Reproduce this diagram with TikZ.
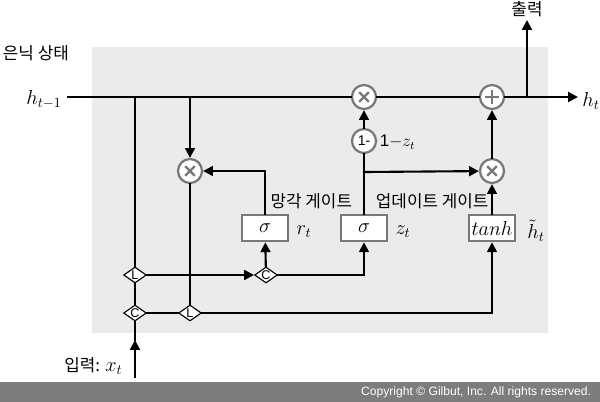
\documentclass[tikz,border=0pt]{standalone}
\usepackage{fontspec}
\setmainfont{Liberation Sans}
\newfontfamily\kr{Noto Sans CJK KR}
\usetikzlibrary{arrows.meta,shapes.geometric}
\definecolor{panel}{RGB}{235,235,235}
\definecolor{ring}{RGB}{120,120,120}
\definecolor{strip}{RGB}{125,125,125}
\tikzset{
  wire/.style={line width=1.5pt,line cap=rect},
  feed/.style={wire,-{Triangle[length=7pt,width=7pt]}},
  op/.style={circle,draw=ring,fill=white,line width=1.6pt,minimum size=0.6cm,inner sep=0pt},
  mul/.style={op,path picture={
      \draw[ring,line width=1.7pt] ([shift={(-0.12cm,-0.12cm)}]path picture bounding box.center) -- ([shift={(0.12cm,0.12cm)}]path picture bounding box.center)
        ([shift={(-0.12cm,0.12cm)}]path picture bounding box.center) -- ([shift={(0.12cm,-0.12cm)}]path picture bounding box.center);}},
  sum/.style={op,path picture={
      \draw[ring,line width=1.7pt] ([shift={(-0.18cm,0)}]path picture bounding box.center) -- ([shift={(0.18cm,0)}]path picture bounding box.center)
        ([shift={(0,0.18cm)}]path picture bounding box.center) -- ([shift={(0,-0.18cm)}]path picture bounding box.center);}},
  gate/.style={rectangle,draw=ring,fill=white,line width=1.6pt,minimum width=1.15cm,minimum height=0.66cm,inner sep=0pt,font=\Large},
  mix/.style={diamond,draw,fill=white,line width=0.8pt,aspect=1.5,minimum width=0.57cm,minimum height=0.4cm,inner sep=0pt,font=\small},
  lbl/.style={font=\Large,inner sep=1pt},
  krlbl/.style={font=\kr\large}
}
\begin{document}
\begin{tikzpicture}[x=0.025cm,y=-0.025cm]
  \useasboundingbox (0,0) rectangle (600,402);
  \fill[panel] (92,47) rectangle (548,333);
  \fill[strip] (0,382) rectangle (600,402);
  \node[anchor=east,text=white,font=\fontsize{8.6}{10}\selectfont] (copy) at (596,392) {Copyright © Gilbut, Inc. All rights reserved.};

  \node[mul] (m1) at (190,171) {};
  \node[mul] (m2) at (364,97) {};
  \node[sum] (add) at (492,97) {};
  \node[mul] (m3) at (492,171) {};
  \node[op,font=\normalsize] (om) at (364,141) {1-};
  \node[gate] (sr) at (265,228) {$\sigma$};
  \node[gate] (sz) at (364,228) {$\sigma$};
  \node[gate] (th) at (492,228) {$tanh$};
  \node[mix] (l1) at (135,275) {L};
  \node[mix] (c1) at (135,313) {C};
  \node[mix] (c2) at (266,275) {C};
  \node[mix] (l2) at (190,313) {L};

  \coordinate (hin) at (68,97);
  \coordinate (hout) at (578,97);
  \coordinate (j1) at (135,97);
  \coordinate (j2) at (190,97);
  \coordinate (j3) at (364,172);
  \coordinate (j4) at (527,97);
  \coordinate (out) at (527,20);
  \coordinate (xin) at (135,377);
  \coordinate (xtip) at (135,340);

  \draw[wire] (hin) -- (m2);
  \draw[wire] (m2) -- (add);
  \draw[feed] (add) -- (hout);
  \draw[feed] (j4) -- (out);
  \draw[wire] (j1) -- (l1);
  \draw[wire] (l1) -- (c1);
  \draw[feed] (xin) -- (xtip);
  \draw[wire] (xtip) -- (c1);
  \draw[feed] (j2) -- (m1);
  \draw[wire] (m1) -- (l2);
  \draw[feed] (l1) -- (c2);
  \draw[feed] (c2) -- (sr);
  \draw[feed] (c2) -| (sz);
  \draw[wire] (c1) -- (l2);
  \draw[feed] (l2) -| (th);
  \draw[feed] (sr) |- (m1);
  \draw[wire] (sz) -- (om);
  \draw[feed] (om) -- (m2);
  \draw[feed] (j3) -- (m3);
  \draw[feed] (th) -- (m3);
  \draw[feed] (m3) -- (add);

  \node[krlbl,anchor=west] (state) at (-2,53) {은닉 상태};
  \node[lbl] (hprev) at (44,100) {$h_{t-1}$};
  \node[lbl] (hnext) at (591,101) {$h_t$};
  \node[krlbl] (outl) at (527,9) {출력};
  \node[anchor=east,inner sep=1pt] (inl) at (124,366) {{\kr\large 입력:} {\Large$x_t$}};
  \node[anchor=west,font=\large] (omz) at (375,142) {1$-$$z_t$};
  \node[krlbl,anchor=east] (fgl) at (357,201) {망각 게이트};
  \node[krlbl,anchor=west] (ugl) at (371,201) {업데이트 게이트};
  \node[lbl] (rl) at (304,232) {$r_t$};
  \node[lbl] (zl) at (403,232) {$z_t$};
  \node[lbl] (htl) at (536,231) {$\tilde{h}_t$};
\end{tikzpicture}
\end{document}
